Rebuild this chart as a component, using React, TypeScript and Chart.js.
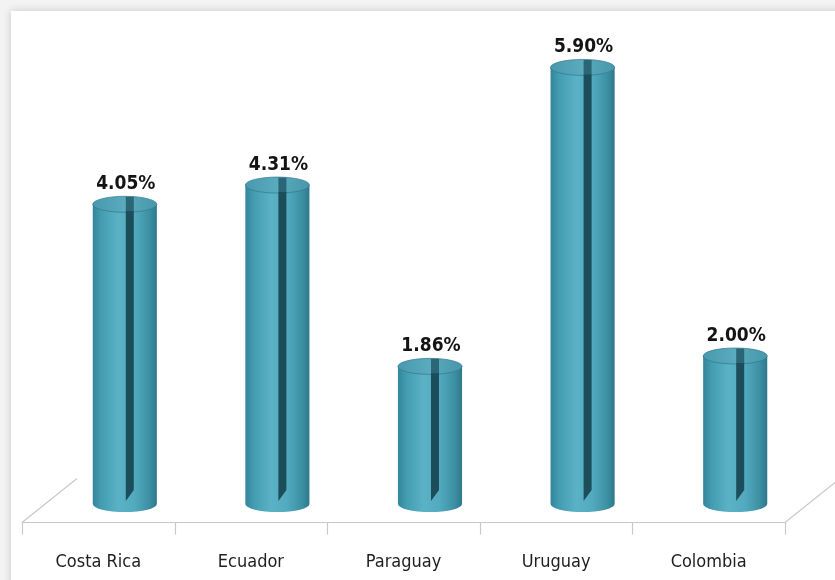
import React, { useEffect, useRef } from "react";
import { Chart, registerables } from "chart.js";

Chart.register(...registerables);

const categories = ["Costa Rica", "Ecuador", "Paraguay", "Uruguay", "Colombia"];
const values = [4.05, 4.31, 1.86, 5.9, 2.0];
const valueLabels = ["4.05%", "4.31%", "1.86%", "5.90%", "2.00%"];
const yMin = 0;
const yMax = 6.5;

const DEPTH_DX = 26.5;
const DEPTH_DY = -18;
const FLOOR_DX = 55;
const FLOOR_DY = -44;

const cylinderPlugin = {
  id: "cylinders",
  beforeDraw(chart: any) {
    const ctx = chart.ctx;
    const W = chart.width;
    const H = chart.height;
    ctx.save();
    ctx.fillStyle = "#f3f3f3";
    ctx.fillRect(0, 0, W, H);
    ctx.shadowColor = "rgba(0,0,0,0.18)";
    ctx.shadowBlur = 8;
    ctx.fillStyle = "#ffffff";
    ctx.fillRect(11, 11, W + 20, H + 20);
    ctx.restore();
  },
  beforeDatasetsDraw(chart: any) {
    const ctx = chart.ctx;
    const x = chart.scales.x;
    const area = chart.chartArea;
    const yb = Math.round(area.bottom) + 0.5;
    const n = categories.length;
    const step = (area.right - area.left) / n;
    ctx.save();
    ctx.strokeStyle = "#c8c8c8";
    ctx.lineWidth = 1.2;
    ctx.beginPath();
    ctx.moveTo(area.left, yb);
    ctx.lineTo(area.right, yb);
    for (let k = 0; k <= n; k++) {
      const px = Math.round(area.left + k * step) + 0.5;
      ctx.moveTo(px, yb);
      ctx.lineTo(px, yb + 12);
    }
    ctx.moveTo(area.left, yb);
    ctx.lineTo(area.left + FLOOR_DX, yb + FLOOR_DY);
    ctx.moveTo(area.right, yb);
    ctx.lineTo(area.right + FLOOR_DX, yb + FLOOR_DY);
    ctx.stroke();

    // category labels
    ctx.fillStyle = "#1e1e1e";
    ctx.font = '18px "Liberation Sans Narrow", "DejaVu Sans Condensed", sans-serif';
    ctx.textAlign = "center";
    ctx.textBaseline = "middle";
    categories.forEach((c, i) => {
      ctx.fillText(c, x.getPixelForValue(i), 562);
    });
    ctx.restore();
  },
  afterDatasetsDraw(chart: any) {
    const ctx = chart.ctx;
    const meta = chart.getDatasetMeta(0);
    meta.data.forEach((el: any, i: number) => {
      const cx = el.x + DEPTH_DX;
      const top = el.y + DEPTH_DY;
      const base = el.base + DEPTH_DY;
      const w = el.width;
      const rx = w / 2;
      const ry = 8;
      const left = cx - rx;
      const right = cx + rx;
      ctx.save();
      // body
      const g = ctx.createLinearGradient(left, 0, right, 0);
      g.addColorStop(0, "#33849a");
      g.addColorStop(0.12, "#429bb0");
      g.addColorStop(0.4, "#5bb2c6");
      g.addColorStop(0.65, "#52aabe");
      g.addColorStop(0.88, "#3d90a4");
      g.addColorStop(1, "#2e788b");
      ctx.fillStyle = g;
      ctx.beginPath();
      ctx.moveTo(left, top);
      ctx.lineTo(left, base);
      ctx.ellipse(cx, base, rx, ry, 0, Math.PI, 0, true);
      ctx.lineTo(right, top);
      ctx.closePath();
      ctx.fill();
      // top face
      const gt = ctx.createLinearGradient(left, 0, right, 0);
      gt.addColorStop(0, "#4899ad");
      gt.addColorStop(0.5, "#5aabbe");
      gt.addColorStop(1, "#4797ab");
      ctx.fillStyle = gt;
      ctx.beginPath();
      ctx.ellipse(cx, top, rx, ry, 0, 0, Math.PI * 2);
      ctx.fill();
      ctx.strokeStyle = "rgba(50,120,138,0.7)";
      ctx.lineWidth = 1;
      ctx.stroke();
      // dark slit on top face
      const s0 = cx + 1;
      const s1 = cx + 9;
      ctx.fillStyle = "#2b6676";
      ctx.beginPath();
      ctx.moveTo(s0, top - ry + 0.5);
      ctx.lineTo(s1, top - ry + 0.5);
      ctx.lineTo(s1, top + ry);
      ctx.lineTo(s0, top + ry);
      ctx.closePath();
      ctx.fill();
      // dark slit on body
      ctx.fillStyle = "#1c4d5a";
      ctx.beginPath();
      ctx.moveTo(s0, top + ry - 1);
      ctx.lineTo(s1, top + ry - 1);
      ctx.lineTo(s1, base - 14);
      ctx.lineTo(s0, base - 3);
      ctx.closePath();
      ctx.fill();
      // value label
      ctx.fillStyle = "#141414";
      ctx.font = 'bold 19px "Liberation Sans Narrow", "DejaVu Sans Condensed", sans-serif';
      ctx.textAlign = "center";
      ctx.textBaseline = "middle";
      ctx.fillText(valueLabels[i], cx + 1, top - 20);
      ctx.restore();
    });
  },
};

export default function App() {
  const ref = useRef<HTMLCanvasElement | null>(null);
  useEffect(() => {
    if (!ref.current) return;
    const chart = new Chart(ref.current, {
      type: "bar",
      data: {
        labels: categories,
        datasets: [
          {
            data: values,
            backgroundColor: "rgba(0,0,0,0)",
            borderWidth: 0,
            categoryPercentage: 1,
            barPercentage: 0.42,
          },
        ],
      },
      options: {
        responsive: false,
        animation: false,
        layout: { padding: { left: 22, right: 50, top: 41, bottom: 58 } },
        scales: {
          x: { display: false, offset: true },
          y: { display: false, min: yMin, max: yMax },
        },
        plugins: { legend: { display: false }, tooltip: { enabled: false } },
      },
      plugins: [cylinderPlugin],
    });
    return () => chart.destroy();
  }, []);
  return (
    <div style={{ position: "fixed", left: 0, top: 0, width: 835, height: 580 }}>
      <canvas ref={ref} width={835} height={580} style={{ width: 835, height: 580 }} />
    </div>
  );
}
